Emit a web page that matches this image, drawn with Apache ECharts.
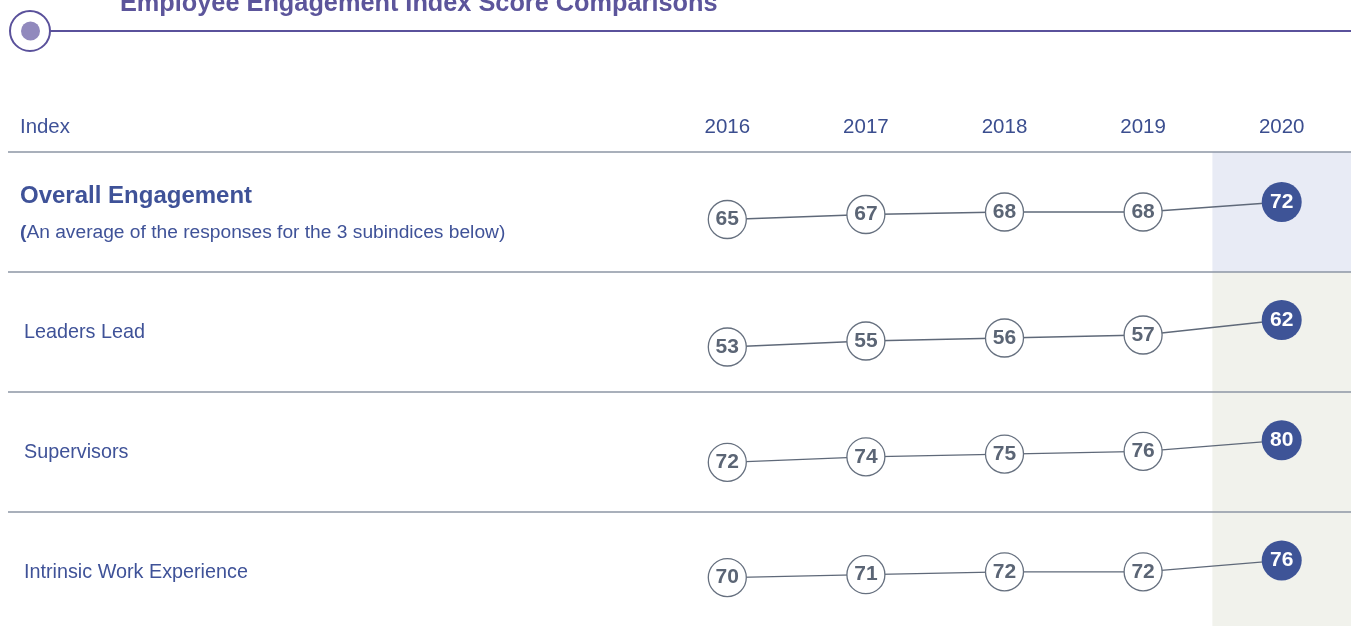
<!DOCTYPE html>
<html><head><meta charset="utf-8">
<script src="https://cdn.jsdelivr.net/npm/echarts@6/dist/echarts.min.js"></script>
<style>html,body{margin:0;padding:0;background:#fff}#c{width:1351px;height:626px}</style>
</head><body><div id="c"></div>
<script>
const chartTitle = 'Employee Engagement Index Score Comparisons';
const indexHeader = 'Index';
const years = ['2016', '2017', '2018', '2019', '2020'];
const rowNames = ['Overall Engagement', 'Leaders Lead', 'Supervisors', 'Intrinsic Work Experience'];
const overallNote = 'An average of the responses for the 3 subindices below';
const overallValues = [65, 67, 68, 68, 72];
const leadersLeadValues = [53, 55, 56, 57, 62];
const supervisorsValues = [72, 74, 75, 76, 80];
const intrinsicValues = [70, 71, 72, 72, 76];
const rowValues = [overallValues, leadersLeadValues, supervisorsValues, intrinsicValues];

// layout
const rowTop0 = 152, rowH = 120;
const axisRanges = [[44, 92], [38, 78], [54, 97.5], [53, 93]];
const bandColors = ['#e8ebf5', '#f1f2ec', '#f1f2ec', '#f1f2ec'];
const BLUE = '#3f5298';
const regFont = "'Liberation Sans', Arial, sans-serif";
const boldFont = "'Liberation Sans', Arial, sans-serif";

const grids = [], xAxes = [], yAxes = [], series = [];
rowValues.forEach((vals, i) => {
  const top = rowTop0 + i * rowH;
  grids.push({ left: 658, width: 695, top: top, height: rowH });
  xAxes.push({
    type: 'category', gridIndex: i, data: years, boundaryGap: true,
    position: 'top',
    axisLine: { show: false }, axisTick: { show: false }, splitLine: { show: false },
    axisLabel: i === 0 ? { show: true, margin: 14, color: '#3b4e8f', fontSize: 20.5, fontFamily: regFont } : { show: false }
  });
  yAxes.push({ type: 'value', gridIndex: i, min: axisRanges[i][0], max: axisRanges[i][1], show: false, splitLine: { show: false } });
  const lastIdx = vals.length - 1;
  series.push({
    type: 'bar', xAxisIndex: i, yAxisIndex: i, silent: true, clip: true,
    barWidth: '100%', z: 1,
    itemStyle: { color: bandColors[i] },
    data: years.map((y, k) => k === lastIdx ? axisRanges[i][1] : null)
  });
  series.push({
    type: 'line', xAxisIndex: i, yAxisIndex: i, z: 5, silent: true,
    symbol: 'circle', symbolSize: 38,
    lineStyle: { color: '#5f6979', width: 1.3 },
    itemStyle: { color: '#ffffff', borderColor: '#66707f', borderWidth: 1.3 },
    label: { show: true, position: 'inside', formatter: '{c}', color: '#5b6575', fontSize: 21, fontWeight: 'bold', fontFamily: boldFont },
    data: vals.map((v, k) => k === lastIdx ? {
      value: v, symbolSize: 40,
      itemStyle: { color: '#3e5497', borderColor: '#3e5497', borderWidth: 0 },
      label: { color: '#ffffff' }
    } : v)
  });
});

const graphic = [
  { type: 'text', left: 120, top: -8, z: 100, style: { text: chartTitle, fill: '#5c559b', font: "bold 25.3px " + boldFont } },
  { type: 'line', z: 100, shape: { x1: 48, y1: 31, x2: 1351, y2: 31 }, style: { stroke: '#5a519b', lineWidth: 2 } },
  { type: 'circle', z: 100, shape: { cx: 30, cy: 31, r: 20 }, style: { fill: '#ffffff', stroke: '#5a519b', lineWidth: 2 } },
  { type: 'circle', z: 101, shape: { cx: 30.5, cy: 31, r: 9.5 }, style: { fill: '#9189bd' } },
  { type: 'text', x: 20, y: 127, z: 100, style: { text: indexHeader, fill: BLUE, font: "20.4px " + regFont, verticalAlign: 'middle' } }
];
for (let i = 0; i < 4; i++) {
  const y = rowTop0 + i * rowH;
  graphic.push({ type: 'line', z: 100, shape: { x1: 8, y1: y, x2: 1351, y2: y }, style: { stroke: '#8d96a5', lineWidth: 1.5 } });
}
graphic.push({ type: 'text', x: 20, y: 196, z: 100, style: { text: rowNames[0], fill: BLUE, font: "bold 24px " + boldFont, verticalAlign: 'middle' } });
graphic.push({ type: 'text', x: 20, y: 233, z: 100, style: {
  text: '{b|(}{n|' + overallNote + ')}', verticalAlign: 'middle',
  rich: { b: { fill: BLUE, fontWeight: 'bold', fontSize: 19.2, fontFamily: boldFont }, n: { fill: BLUE, fontSize: 19.2, fontFamily: regFont } }
} });
for (let i = 1; i < 4; i++) {
  graphic.push({ type: 'text', x: 24, y: rowTop0 + i * rowH + 61, z: 100, style: { text: rowNames[i], fill: BLUE, font: "19.8px " + regFont, verticalAlign: 'middle' } });
}

const chart = echarts.init(document.getElementById('c'), null, { renderer: 'canvas' });
chart.setOption({
  animation: false,
  backgroundColor: '#ffffff',
  grid: grids, xAxis: xAxes, yAxis: yAxes, series: series, graphic: graphic
});
</script></body></html>
